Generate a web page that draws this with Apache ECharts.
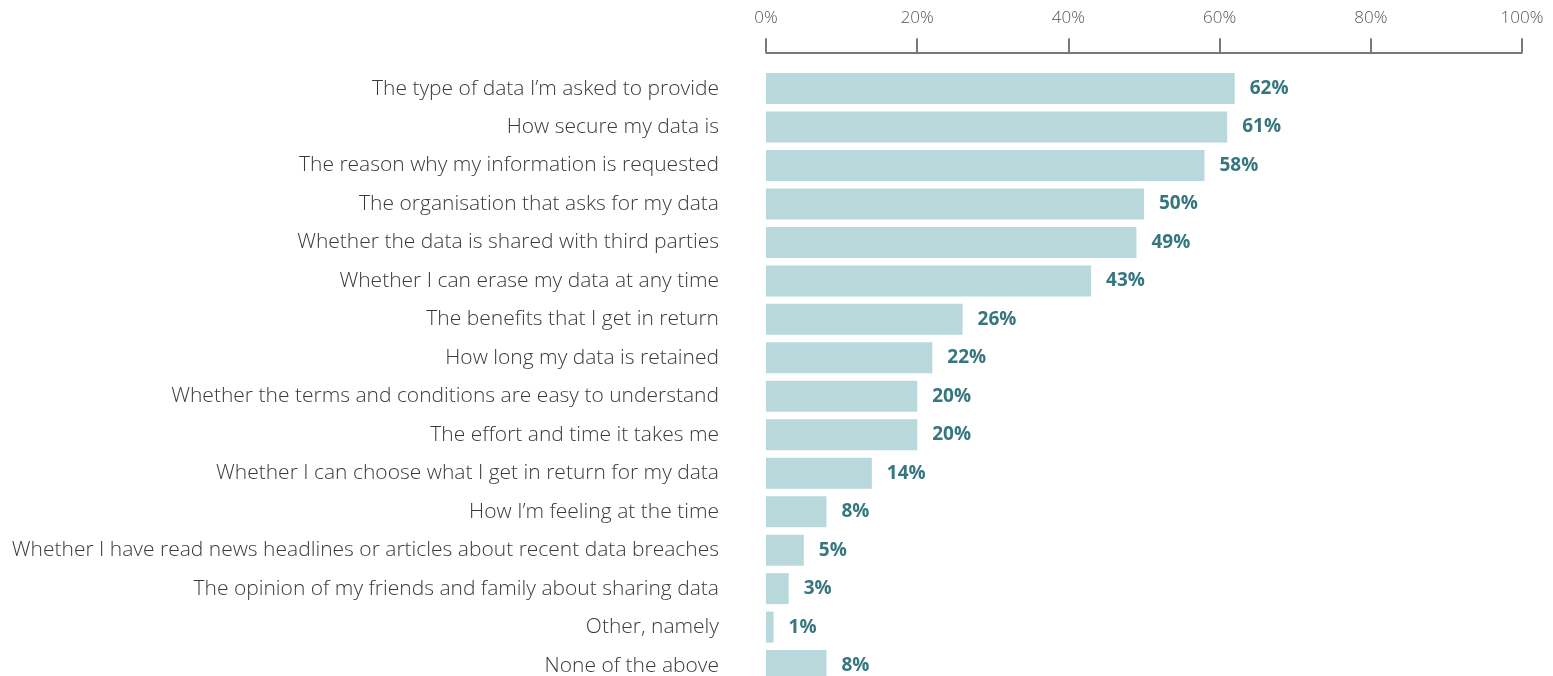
<!DOCTYPE html>
<html><head><meta charset="utf-8">
<script src="https://cdn.jsdelivr.net/npm/echarts@6/dist/echarts.min.js"></script>
<style>html,body{margin:0;padding:0;background:#fff}#c{width:1553px;height:676px}</style>
</head><body><div id="c"></div>
<script>
const categories = [
  "The type of data I\u2019m asked to provide",
  "How secure my data is",
  "The reason why my information is requested",
  "The organisation that asks for my data",
  "Whether the data is shared with third parties",
  "Whether I can erase my data at any time",
  "The benefits that I get in return",
  "How long my data is retained",
  "Whether the terms and conditions are easy to understand",
  "The effort and time it takes me",
  "Whether I can choose what I get in return for my data",
  "How I\u2019m feeling at the time",
  "Whether I have read news headlines or articles about recent data breaches",
  "The opinion of my friends and family about sharing data",
  "Other, namely",
  "None of the above"
];
const values = [62, 61, 58, 50, 49, 43, 26, 22, 20, 20, 14, 8, 5, 3, 1, 8];

const chart = echarts.init(document.getElementById('c'), null, {renderer: 'canvas'});
chart.setOption({
  animation: false,
  grid: {left: 766, width: 756, top: 69.3, height: 615.5, containLabel: false, outerBoundsMode: 'none'},
  xAxis: {
    type: 'value', position: 'top', min: 0, max: 100, interval: 20, offset: 17,
    axisLine: {show: true, lineStyle: {color: '#4a4f57', width: 1.5}},
    axisTick: {show: true, length: 14, lineStyle: {color: '#4a4f57', width: 1.5}},
    axisLabel: {formatter: '{value}%', color: '#555', fontSize: 17, fontFamily: 'Open Sans', fontWeight: 300, margin: 26},
    splitLine: {show: false}
  },
  yAxis: {
    type: 'category', data: categories, inverse: true,
    axisLine: {show: false}, axisTick: {show: false},
    axisLabel: {color: '#3a3a3a', fontSize: 21, fontFamily: 'Open Sans', fontWeight: 300, margin: 47}
  },
  series: [{
    type: 'bar', data: values, barCategoryGap: '19.4%',
    itemStyle: {color: '#b8d8db'},
    label: {show: true, position: 'right', distance: 15, formatter: '{c}%',
      color: '#36767f', fontWeight: 'bold', fontSize: 19, fontFamily: 'Open Sans'}
  }]
});
</script></body></html>
